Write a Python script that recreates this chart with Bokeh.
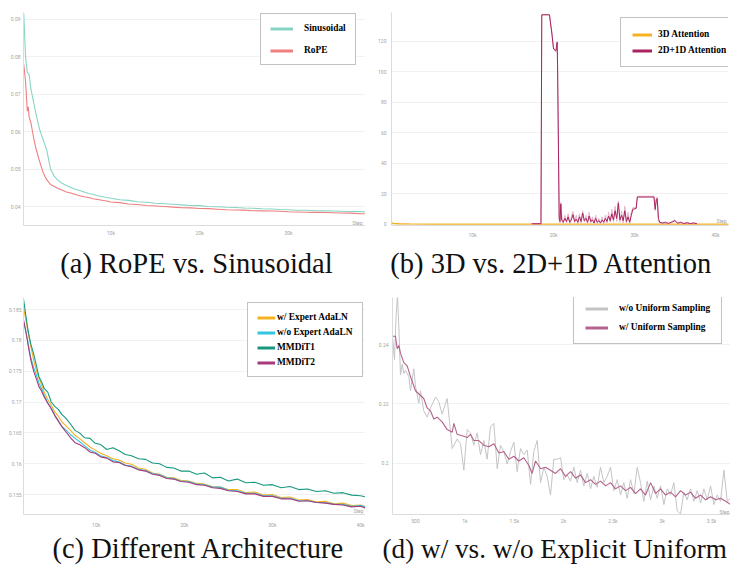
from bokeh.plotting import figure
from bokeh.models import FixedTicker, Legend, LegendItem, Label
from bokeh.layouts import column, row
from bokeh.embed import file_html
from bokeh.resources import INLINE
from bokeh.core.properties import value

# ---------------- data ----------------
# (a) RoPE vs. Sinusoidal  (steps in thousands)
A_STEPS = [0.2, 0.4, 0.6, 0.7, 0.8, 1.0, 1.3, 1.6, 2.0, 2.4, 2.8, 3.2, 3.6, 4.0, 4.5, 5, 5.5, 6, 6.5, 7,
           7.5, 8, 8.5, 9, 9.5, 10, 11, 12, 13, 14, 15, 16, 17, 18, 19, 20, 21, 22, 23, 24, 25, 26,
           27, 28, 29, 30, 31, 32, 33, 34, 35, 36, 37, 38, 38.6]
A_SINUSOIDAL = [0.0915, 0.0800, 0.0758, 0.0756, 0.0752, 0.0715, 0.0680, 0.0645, 0.0605, 0.0578, 0.0550,
                0.0502, 0.0483, 0.0472, 0.0463, 0.0457, 0.0452, 0.0447, 0.0444, 0.0440, 0.0436, 0.0434,
                0.0430, 0.0428, 0.0425, 0.0423, 0.0419, 0.04175, 0.0414, 0.04125, 0.0410, 0.04085,
                0.0407, 0.04055, 0.0404, 0.04035, 0.0401, 0.04005, 0.0399, 0.03985, 0.0397, 0.03965,
                0.0395, 0.03945, 0.0393, 0.03925, 0.0391, 0.03912, 0.0390, 0.03895, 0.0389, 0.03885,
                0.0388, 0.03875, 0.0387]
A_ROPE = [0.0780, 0.0735, 0.0655, 0.0667, 0.0640, 0.0625, 0.0585, 0.0553, 0.0520, 0.0490, 0.0472,
          0.0460, 0.0455, 0.0450, 0.0445, 0.0440, 0.0437, 0.0433, 0.0430, 0.0427, 0.0425, 0.0422,
          0.0420, 0.0418, 0.0416, 0.0413, 0.04115, 0.0408, 0.04065, 0.0404, 0.04025, 0.0401,
          0.03995, 0.0398, 0.03975, 0.0396, 0.03955, 0.0394, 0.03925, 0.0392, 0.03915, 0.0390,
          0.03895, 0.0389, 0.03885, 0.0387, 0.03865, 0.0386, 0.03855, 0.0385, 0.03845, 0.0384,
          0.03835, 0.0382, 0.0382]
A_X_TICKS = [10, 20, 30]
A_X_LABELS = ["10k", "20k", "30k"]
A_Y_TICKS = [0.04, 0.05, 0.06, 0.07, 0.08, 0.09]
A_Y_LABELS = ["0.04", "0.05", "0.06", "0.07", "0.08", "0.09"]

# (b) 3D vs. 2D+1D Attention (steps in thousands)
B_3D_STEPS = [0, 0.2, 0.5, 1, 2.2, 5, 10, 15, 20, 25, 30, 35, 40, 41.8]
B_3D = [1.2, 0.8, 0.6, 0.5, 0.4, 0.3, 0.3, 0.3, 0.3, 0.3, 0.3, 0.3, 0.3, 0.3]
B_2D1D_STEPS = [17.3, 18.45, 18.55, 19.5, 19.8, 20.0, 20.3, 20.45, 20.5, 20.7, 20.8, 20.9, 21.0, 21.2,
                21.4, 21.6, 21.8, 22.0, 22.2, 22.4, 22.6, 22.8, 23.0, 23.2, 23.4, 23.6, 23.8, 24.0,
                24.2, 24.4, 24.6, 24.8, 25.0, 25.2, 25.4, 25.6, 25.8, 26.0, 26.2, 26.4, 26.6, 26.8,
                27.0, 27.2, 27.4, 27.6, 27.8, 28.0, 28.2, 28.4, 28.6, 28.8, 29.0, 29.2, 29.4, 29.6,
                29.8, 30.2, 30.35, 32.4, 32.55, 32.7, 32.8, 32.95, 33.1, 33.4, 33.8, 34.2, 34.6, 35.0,
                35.3, 35.7, 36.1, 36.5, 36.9, 37.3, 37.7]
B_2D1D = [0.5, 0.5, 137.5, 137.5, 125, 115, 114, 119.5, 104, 3.5, 2, 13.5, 3, 1.5, 4, 2, 5, 1.5, 3,
          6.5, 2, 3.5, 1.5, 5, 2, 7.5, 2.5, 4, 1.5, 5.5, 2, 3, 1, 4, 1.5, 2.5, 1, 3, 1.5, 4, 2, 5.5,
          2.5, 7, 3, 9, 4, 14, 3, 6, 2.5, 9, 2, 5, 1.5, 6, 10, 10.5, 18, 18, 10, 16.5, 17, 4, 1.5, 1,
          1.2, 0.8, 1.5, 2.5, 0.9, 1.3, 0.7, 1.1, 0.6, 1.0, 0.5]
B_2D1D_RAW = [0.5, 0.5, 137.5, 137.5, 126, 116, 113, 120, 103, 5, 1, 14.5, 6, 0.5, 6, 1, 7, 0.5, 5,
              8.5, 1, 6, 0.5, 7, 1, 9, 1.5, 6, 0.5, 8, 1, 5, 0.3, 6, 0.5, 4, 0.3, 5, 0.5, 6, 1, 8,
              1.5, 10, 1.5, 12, 2, 15.5, 1.5, 9, 1, 12, 1, 8, 0.5, 8, 11, 11, 18.5, 18.5, 9, 17.5,
              18, 3, 1, 0.5, 2, 0.3, 2, 3, 0.5, 1.8, 0.4, 1.5, 0.3, 1.2, 0.3]
B_X_TICKS = [10, 20, 30, 40]
B_X_LABELS = ["10k", "20k", "30k", "40k"]
B_Y_TICKS = [0, 20, 40, 60, 80, 100, 120]
B_Y_LABELS = ["0", "20", "40", "60", "80", "100", "120"]

# (c) Different Architecture (steps in thousands)
C_STEPS = [1.76, 2.0, 2.2, 2.4, 2.6, 2.9, 3.2, 3.5, 3.8, 4.1, 4.5, 4.9, 5.3, 5.7, 6.1, 6.6, 7.1, 7.6,
           8.1, 8.7, 9.3, 9.9, 10.5, 11.2, 11.9, 12.6, 13.3, 14.0, 14.8, 15.6, 16.4, 17.2, 18.0, 18.8,
           19.6, 20.5, 21.4, 22.3, 23.2, 24.1, 25.0, 26.0, 27.0, 28.0, 29.0, 30.0, 31.0, 32.0, 33.0,
           34.0, 35.0, 36.0, 37.0, 38.0, 39.0, 40.0, 40.6]
C_W_EXPERT = [0.1852, 0.1835, 0.1819, 0.1803, 0.1789, 0.1768, 0.1752, 0.1739, 0.1728, 0.1716, 0.1704,
              0.1695, 0.1684, 0.1677, 0.1668, 0.1661, 0.1654, 0.1646, 0.1641, 0.1634, 0.1627, 0.1622,
              0.1617, 0.1613, 0.1608, 0.1606, 0.1601, 0.1599, 0.1593, 0.1591, 0.1585, 0.1583, 0.1578,
              0.1577, 0.1573, 0.1572, 0.1568, 0.1567, 0.1563, 0.1562, 0.1558, 0.1558, 0.1553, 0.1554,
              0.1549, 0.1550, 0.1545, 0.1546, 0.1541, 0.1542, 0.1538, 0.1539, 0.1535, 0.1536, 0.1532,
              0.1533, 0.1530]
C_WO_EXPERT = [0.1830, 0.1815, 0.1801, 0.1785, 0.1771, 0.1756, 0.1744, 0.1731, 0.1722, 0.1711, 0.1699,
               0.1690, 0.1679, 0.1670, 0.1661, 0.1654, 0.1647, 0.1641, 0.1636, 0.1629, 0.1622, 0.1618,
               0.1613, 0.1610, 0.1605, 0.1603, 0.1598, 0.1596, 0.1591, 0.1589, 0.1584, 0.1582, 0.1577,
               0.1576, 0.1572, 0.1571, 0.1567, 0.1566, 0.1562, 0.1562, 0.1557, 0.1556, 0.1552, 0.1552,
               0.1548, 0.1548, 0.1544, 0.1544, 0.1540, 0.1540, 0.1537, 0.1537, 0.1534, 0.1534, 0.1531,
               0.1532, 0.1530]
C_MMDIT1 = [0.1866, 0.1842, 0.1822, 0.1806, 0.1793, 0.1778, 0.1760, 0.1741, 0.1733, 0.1722, 0.1716,
            0.1700, 0.1693, 0.1688, 0.1680, 0.1673, 0.1664, 0.1654, 0.1650, 0.1642, 0.1641, 0.1633,
            0.1631, 0.1623, 0.1626, 0.1621, 0.1615, 0.1613, 0.1608, 0.1607, 0.1601, 0.1600, 0.1594,
            0.1593, 0.1588, 0.1588, 0.1583, 0.1585, 0.1577, 0.1578, 0.1572, 0.1575, 0.1569, 0.1570,
            0.1565, 0.1566, 0.1561, 0.1563, 0.1558, 0.1559, 0.1555, 0.1556, 0.1552, 0.1553, 0.1549,
            0.1548, 0.1546]
C_MMDIT2 = [0.1833, 0.1816, 0.1799, 0.1782, 0.1767, 0.1750, 0.1738, 0.1725, 0.1718, 0.1708, 0.1698,
            0.1689, 0.1678, 0.1669, 0.1660, 0.1651, 0.1642, 0.1634, 0.1631, 0.1626, 0.1619, 0.1617,
            0.1611, 0.1609, 0.1603, 0.1602, 0.1597, 0.1595, 0.1590, 0.1588, 0.1583, 0.1581, 0.1576,
            0.1575, 0.1571, 0.1570, 0.1566, 0.1565, 0.1561, 0.1560, 0.1556, 0.1555, 0.1551, 0.1551,
            0.1547, 0.1547, 0.1543, 0.1543, 0.1539, 0.1540, 0.1537, 0.1536, 0.1534, 0.1533, 0.1530,
            0.1531, 0.1528]
C_X_TICKS = [10, 20, 30, 40]
C_X_LABELS = ["10k", "20k", "30k", "40k"]
C_Y_TICKS = [0.155, 0.16, 0.165, 0.17, 0.175, 0.18, 0.185]
C_Y_LABELS = ["0.155", "0.16", "0.165", "0.17", "0.175", "0.18", "0.185"]

# (d) w/ vs. w/o Explicit Uniform Sampling (steps)
D_WO_STEPS = [270, 287, 304, 318, 331, 348, 365, 382, 399, 432, 449, 483, 500, 534, 551, 584, 618, 652,
              703, 736, 770, 821, 872, 922, 956, 990, 1024, 1057, 1091, 1125, 1159, 1193, 1226, 1260,
              1294, 1328, 1361, 1395, 1429, 1463, 1497, 1530, 1564, 1598, 1632, 1666, 1699, 1733, 1767,
              1801, 1834, 1868, 1902, 1936, 1970, 2003, 2037, 2071, 2105, 2139, 2172, 2206, 2240, 2274,
              2307, 2341, 2375, 2409, 2443, 2476, 2510, 2544, 2578, 2611, 2645, 2679, 2713, 2747, 2780,
              2814, 2848, 2882, 2916, 2949, 2983, 3017, 3051, 3084, 3118, 3152, 3186, 3220, 3253, 3287,
              3321, 3355, 3389, 3422, 3456, 3490, 3524, 3557, 3591, 3625, 3659, 3693]
D_WO = [0.2418, 0.2349, 0.2502, 0.2565, 0.2460, 0.2297, 0.2334, 0.2302, 0.2313, 0.2292,
        0.2244, 0.2318, 0.2260, 0.2202, 0.2244, 0.2176, 0.2155, 0.2186, 0.2223, 0.2207,
        0.2165, 0.2218, 0.2049, 0.2081, 0.2065, 0.1976, 0.2113, 0.2102, 0.2060, 0.2102,
        0.2028, 0.2076, 0.2013, 0.2123, 0.2134, 0.1981, 0.2060, 0.2039, 0.1997, 0.2039,
        0.2071, 0.1971, 0.2049, 0.2028, 0.2044, 0.1928, 0.2039, 0.2076, 0.1934, 0.1986,
        0.1955, 0.1892, 0.2013, 0.2013, 0.2018, 0.1944, 0.1960, 0.1939, 0.1986, 0.1934,
        0.1976, 0.1923, 0.1965, 0.1913, 0.1955, 0.1918, 0.1986, 0.1934, 0.1955, 0.1986,
        0.1907, 0.1944, 0.1892, 0.1934, 0.1881, 0.1944, 0.1897, 0.1986, 0.1934, 0.1871,
        0.1939, 0.1876, 0.1923, 0.1881, 0.1923, 0.1860, 0.1913, 0.1892, 0.1934, 0.1839,
        0.1828, 0.1902, 0.1876, 0.1913, 0.1871, 0.1907, 0.1865, 0.1913, 0.1876, 0.1923,
        0.1860, 0.1892, 0.1871, 0.1976, 0.1871, 0.1881]
D_W_STEPS = [270, 297, 314, 331, 348, 382, 416, 449, 500, 551, 584, 618, 652, 686, 720, 770, 821, 872,
             889, 922, 973, 1024, 1057, 1091, 1142, 1193, 1243, 1294, 1345, 1395, 1446, 1497, 1547,
             1598, 1649, 1682, 1716, 1767, 1818, 1868, 1919, 1970, 2020, 2071, 2122, 2172, 2223, 2274,
             2324, 2375, 2426, 2476, 2527, 2578, 2628, 2679, 2730, 2780, 2831, 2882, 2932, 2983, 3034,
             3084, 3135, 3186, 3236, 3287, 3338, 3389, 3439, 3490, 3541, 3591, 3642, 3693]
D_W = [0.2428, 0.2428, 0.2386, 0.2397, 0.2371, 0.2339, 0.2328, 0.2292, 0.2244, 0.2228,
       0.2218, 0.2186, 0.2176, 0.2149, 0.2155, 0.2139, 0.2113, 0.2104, 0.2134, 0.2097,
       0.2092, 0.2086, 0.2097, 0.2076, 0.2076, 0.2060, 0.2055, 0.2065, 0.2034, 0.2039,
       0.2013, 0.2023, 0.2007, 0.2018, 0.1992, 0.1965, 0.2007, 0.1981, 0.1986, 0.1976,
       0.1965, 0.1981, 0.1955, 0.1971, 0.1949, 0.1960, 0.1934, 0.1944, 0.1928, 0.1939,
       0.1923, 0.1934, 0.1913, 0.1923, 0.1907, 0.1918, 0.1897, 0.1913, 0.1892, 0.1934,
       0.1897, 0.1913, 0.1892, 0.1902, 0.1886, 0.1907, 0.1892, 0.1902, 0.1881, 0.1892,
       0.1876, 0.1886, 0.1876, 0.1881, 0.1871, 0.1860]
D_X_TICKS = [500, 1000, 1500, 2000, 2500, 3000, 3500]
D_X_LABELS = ["500", "1k", "1.5k", "2k", "2.5k", "3k", "3.5k"]
D_Y_TICKS = [0.2, 0.22, 0.24]
D_Y_LABELS = ["0.2", "0.22", "0.24"]

CAPTIONS = ["(a) RoPE vs. Sinusoidal", "(b) 3D vs. 2D+1D Attention",
            "(c) Different Architecture", "(d) w/ vs. w/o Explicit Uniform"]

# ---------------- styling helpers ----------------
TICK_FONT = "Roboto"
TICK_COLOR = "#a3a3a3"
LEG_FONT = "Liberation Serif"
CAP_FONT = "Liberation Serif"
NAN = float("nan")


def base_fig(width, height, xr, yr, borders, xticks, xlabels, yticks, ylabels, xstand, ystand):
    bl, br, bt, bb = borders
    p = figure(width=width, height=height, x_range=xr, y_range=yr,
               output_backend="svg", toolbar_location=None,
               min_border_left=bl, min_border_right=br, min_border_top=bt, min_border_bottom=bb)
    p.outline_line_color = None
    p.background_fill_color = "white"
    p.border_fill_color = "white"
    p.xgrid.visible = False
    p.ygrid.grid_line_color = "#f1f1f1"
    p.ygrid.ticker = FixedTicker(ticks=yticks)
    p.xaxis.ticker = FixedTicker(ticks=xticks)
    p.yaxis.ticker = FixedTicker(ticks=yticks)
    p.xaxis.major_label_overrides = dict(zip(xticks, xlabels))
    p.yaxis.major_label_overrides = dict(zip(yticks, ylabels))
    for ax in (p.xaxis[0], p.yaxis[0]):
        ax.axis_line_color = "#dcdcdc"
        ax.major_tick_line_color = None
        ax.minor_tick_line_color = None
        ax.major_tick_out = 0
        ax.major_tick_in = 0
        ax.minor_tick_out = 0
        ax.minor_tick_in = 0
        ax.major_label_text_font = TICK_FONT
        ax.major_label_text_font_size = "5px"
        ax.major_label_text_color = TICK_COLOR
    p.xaxis.major_label_standoff = xstand
    p.yaxis.major_label_standoff = ystand
    return p


def corner_labels(p, xr, yr, loss_off, step_off):
    p.add_layout(Label(x=xr[0], y=yr[1], text="Loss", x_offset=loss_off[0], y_offset=loss_off[1],
                       text_align="right", text_baseline="middle", text_font=TICK_FONT,
                       text_font_size="5px", text_color=TICK_COLOR))
    p.add_layout(Label(x=xr[1], y=yr[0], text="Step", x_offset=step_off[0], y_offset=step_off[1],
                       text_align="right", text_baseline="middle", text_font=TICK_FONT,
                       text_font_size="5px", text_color=TICK_COLOR))


def add_legend(p, entries, loc, padding, spacing, glyph_w, standoff, font_size="9.4px"):
    items = []
    for label, color in entries:
        # legend swatch only (a single NaN point draws nothing in the plot)
        r = p.line(x=[NAN], y=[NAN], line_color=color, line_width=3)
        items.append(LegendItem(label=label, renderers=[r]))
    lg = Legend(items=items, location=loc, padding=padding, spacing=spacing,
                glyph_width=glyph_w, glyph_height=9, label_height=9, label_standoff=standoff,
                margin=0, border_line_color="#858585", border_line_width=1,
                background_fill_color="white", background_fill_alpha=1.0,
                label_text_font=LEG_FONT, label_text_font_style="bold",
                label_text_font_size=font_size, label_text_color="black")
    p.add_layout(lg)


def caption_fig(width, height, text, x, y, align, size="28.5px"):
    c = figure(width=width, height=height, x_range=(0, width), y_range=(0, height),
               output_backend="svg", toolbar_location=None,
               x_axis_location=None, y_axis_location=None, min_border=0)
    c.outline_line_color = None
    c.grid.visible = False
    c.text(x=[x], y=[y], text=[text], text_font=value(CAP_FONT), text_font_size=size,
           text_align=align, text_baseline="middle", text_color="#111111")
    return c


# ---------------- (a) ----------------
a_xr = (0.17, 38.66)
a_yr = (0.03505, 0.09182)
fa = base_fig(365, 245, a_xr, a_yr, (23, 0, 10, 17), A_X_TICKS, A_X_LABELS, A_Y_TICKS, A_Y_LABELS, 4, 3)
fa.line(A_STEPS, A_SINUSOIDAL, line_color="#86d5c3", line_width=1.1)
fa.line(A_STEPS, A_ROPE, line_color="#ee7f7f", line_width=1.1)
corner_labels(fa, a_xr, a_yr, (-6, 3), (-3, 3))
add_legend(fa, [("Sinusoidal", "#86d5c3"), ("RoPE", "#ee7f7f")], (237, 160), 9, 12, 23, 11)

# ---------------- (b) ----------------
b_xr = (0.0, 41.6)
b_yr = (-0.66, 139.0)
fb = base_fig(365, 245, b_xr, b_yr, (26, 2, 12, 20), B_X_TICKS, B_X_LABELS, B_Y_TICKS, B_Y_LABELS, 6, 5)
fb.line(B_3D_STEPS, B_3D, line_color="#f5b324", line_width=1.3)
fb.line(B_2D1D_STEPS, B_2D1D_RAW, line_color="#e6b3c9", line_width=1.0)
fb.line(B_2D1D_STEPS, B_2D1D, line_color="#a8235f", line_width=1.0)
corner_labels(fb, b_xr, b_yr, (-4, -2), (-2, 5))
add_legend(fb, [("3D Attention", "#f5b324"), ("2D+1D Attention", "#a8235f")], (229, 158), 11, 6, 20, 6)

# ---------------- (c) ----------------
c_xr = (1.75, 40.57)
c_yr = (0.15176, 0.18695)
fc = base_fig(365, 245, c_xr, c_yr, (23, 0, 12, 16), C_X_TICKS, C_X_LABELS, C_Y_TICKS, C_Y_LABELS, 7, 2)
fc.line(C_STEPS, C_W_EXPERT, line_color="#f4b223", line_width=1.1)
fc.line(C_STEPS, C_WO_EXPERT, line_color="#33c6e0", line_width=1.1)
fc.line(C_STEPS, C_MMDIT2, line_color="#a8397a", line_width=1.1)
fc.line(C_STEPS, C_MMDIT1, line_color="#17977f", line_width=1.1)
corner_labels(fc, c_xr, c_yr, (-2.5, 0), (-2, 4))
add_legend(fc, [("w/ Expert AdaLN", "#f4b223"), ("w/o Expert AdaLN", "#33c6e0"),
                ("MMDiT1", "#17977f"), ("MMDiT2", "#a8397a")], (224, 137), 9, 5, 18, 2)

# ---------------- (d) ----------------
d_xr = (267, 3692)
d_yr = (0.18264, 0.25588)
fd = base_fig(365, 245, d_xr, d_yr, (27, 0, 2, 11), D_X_TICKS, D_X_LABELS, D_Y_TICKS, D_Y_LABELS, 3, 4)
fd.line(D_WO_STEPS, D_WO, line_color="#c4c4c4", line_width=1.0)
fd.line(D_W_STEPS, D_W, line_color="#b4628d", line_width=1.1)
corner_labels(fd, d_xr, d_yr, (-4, 0), (-1, 3))
add_legend(fd, [("w/o Uniform Sampling", "#c4c4c4"), ("w/ Uniform Sampling", "#b4628d")],
           (181, 170), 11, 9, 23, 11)

# ---------------- captions ----------------
ca = caption_fig(365, 40, CAPTIONS[0], 196, 22, "center")
cb = caption_fig(365, 40, CAPTIONS[1], 186, 22, "center")
cc = caption_fig(365, 37, CAPTIONS[2], 198, 19, "center")
cd = caption_fig(365, 37, CAPTIONS[3], 17, 19, "left", size="27.2px")

layout = column(row(fa, fb), row(ca, cb), row(fc, fd), row(cc, cd))

open("out.html", "w").write(file_html(layout, INLINE))
